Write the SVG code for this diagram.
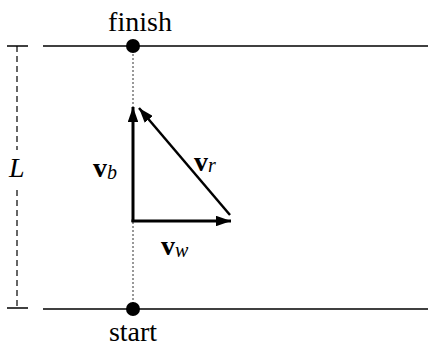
<svg xmlns="http://www.w3.org/2000/svg" width="428" height="347" viewBox="0 0 428 347">
<style>
.t{font-family:"Liberation Serif","Times New Roman",serif;font-size:28px;fill:#000}
.b{font-weight:bold}
.i{font-style:italic}
.s{font-family:"Liberation Serif","Times New Roman",serif;font-size:20px;font-style:italic;font-weight:normal}
.ln{stroke:#000;stroke-width:1.5;fill:none}
.vec{stroke:#000;stroke-width:3;fill:none}
</style>
<defs>
<marker id="ah" viewBox="0 0 10 10" refX="10" refY="5" markerWidth="15" markerHeight="10.5" orient="auto" markerUnits="userSpaceOnUse" preserveAspectRatio="none">
<path d="M0,0 L10,5 L0,10 z" fill="#000"/>
</marker>
</defs>
<g id="banks">
<line class="ln" x1="43" y1="46" x2="428" y2="46"/>
<line class="ln" x1="43" y1="309" x2="428" y2="309"/>
</g>
<g id="path-line">
<line x1="133" y1="46" x2="133" y2="309" stroke="#333" stroke-width="1" stroke-dasharray="2,2"/>
</g>
<g id="finish">
<circle cx="133" cy="46" r="7" fill="#000"/>
<text class="t" x="140" y="31" text-anchor="middle">finish</text>
</g>
<g id="start">
<circle cx="133" cy="309" r="7" fill="#000"/>
<text class="t" x="133" y="341" text-anchor="middle">start</text>
</g>
<g id="L-dim">
<line class="ln" x1="7" y1="46" x2="28" y2="46"/>
<line class="ln" x1="7" y1="308" x2="28" y2="308"/>
<line x1="17" y1="46" x2="17" y2="150" stroke="#000" stroke-width="1.2" stroke-dasharray="6,4"/>
<line x1="17" y1="190" x2="17" y2="308" stroke="#000" stroke-width="1.2" stroke-dasharray="6,4"/>
<text class="t i" x="9" y="177">L</text>
</g>
<g id="connectors">
<line class="vec" x1="133" y1="222" x2="133" y2="107" marker-end="url(#ah)"/>
<line class="vec" x1="131.5" y1="221" x2="231" y2="221" marker-end="url(#ah)"/>
<line x1="230" y1="215" x2="139" y2="108" stroke="#000" stroke-width="2.5" marker-end="url(#ah)"/>
</g>
<g id="labels">
<text class="t b" x="93" y="177">v<tspan class="s" dy="2">b</tspan></text>
<text class="t b" x="194" y="171">v<tspan class="s" dy="1">r</tspan></text>
<text class="t b" x="161" y="255">v<tspan class="s" dy="2">w</tspan></text>
</g>
</svg>
